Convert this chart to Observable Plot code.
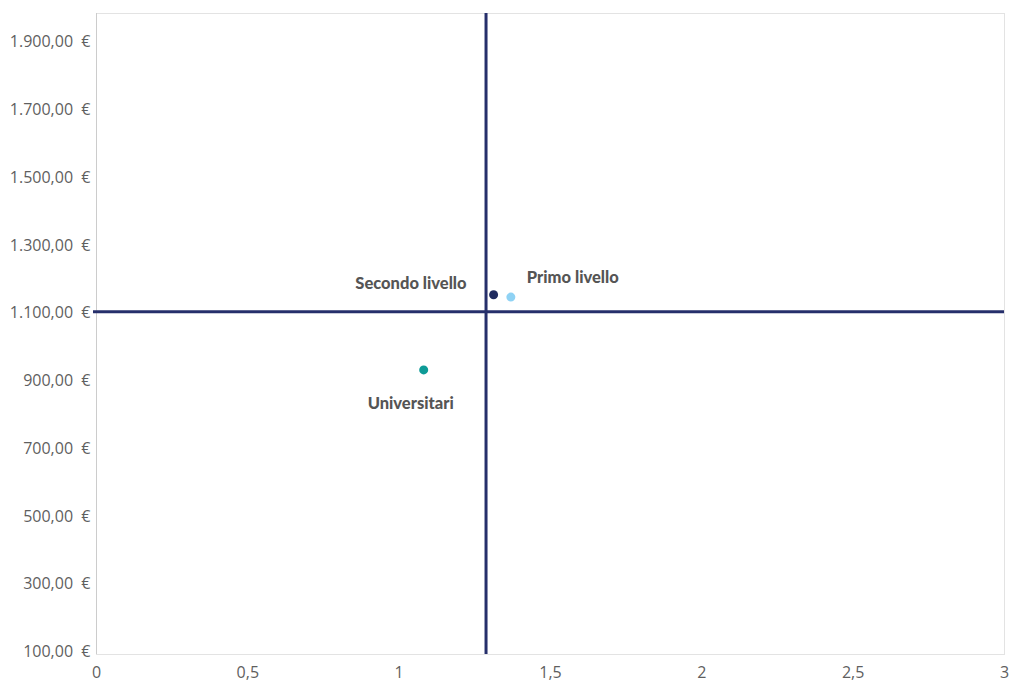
<!DOCTYPE html>
<html>
<head>
<meta charset="utf-8">
<script src="https://cdn.jsdelivr.net/npm/d3@7"></script>
<script src="https://cdn.jsdelivr.net/npm/@observablehq/plot@0.6"></script>
<style>
  html, body { margin: 0; padding: 0; background: #fff; }
  #chart svg { display: block; }
</style>
</head>
<body>
<div id="chart"></div>
<script>
const categories = ["Secondo livello", "Primo livello", "Universitari"];
const xValues = [1.312, 1.369, 1.081];
const yValues = [1162, 1155, 940];
const colors = ["#1f2a5e", "#8fd2f4", "#0e9b97"];
const refX = 1.287;
const refY = 1112;
const xTicks = [0, 0.5, 1, 1.5, 2, 2.5, 3];
const yTicks = [100, 300, 500, 700, 900, 1100, 1300, 1500, 1700, 1900];

const data = categories.map((c, i) => ({name: c, x: xValues[i], y: yValues[i], color: colors[i]}));
const loc = d3.formatLocale({decimal: ",", thousands: ".", grouping: [3], currency: ["", " €"]});
const fy = loc.format(",.2f");
const fx = loc.format(",");

const labelOffsets = {
  "Secondo livello": {dx: -27, dy: -11, anchor: "end"},
  "Primo livello": {dx: 16, dy: -19, anchor: "start"},
  "Universitari": {dx: -13, dy: 34, anchor: "middle"}
};

const chart = Plot.plot({
  width: 1012,
  height: 684,
  marginLeft: 96,
  marginRight: 8,
  marginTop: 13,
  marginBottom: 30,
  style: {fontFamily: "'Open Sans', sans-serif", fontSize: "16px", color: "#5f5f5f", background: "#fff"},
  x: {domain: [0, 3], tickFormat: d => fx(d), label: null},
  y: {domain: [100, 1992], label: null},
  marks: [
    Plot.frame({stroke: "#e3e3e3", strokeWidth: 1}),
    Plot.ruleX([0], {stroke: "#cccccc", strokeWidth: 1}),
    Plot.axisX(xTicks, {tickSize: 0, tickPadding: 12, tickFormat: d => fx(d), fontSize: 16, fill: "#5f5f5f"}),
    Plot.axisY(yTicks, {tickSize: 0, tickPadding: 6, dy: -2.5, tickFormat: d => fy(d) + "\u00a0\u00a0€", fontSize: 16, fill: "#5f5f5f"}),
    Plot.ruleY([refY], {stroke: "#262f6b", strokeWidth: 3, x1: 0, x2: 3, insetLeft: -3}),
    Plot.ruleX([refX], {stroke: "#262f6b", strokeWidth: 3}),
    Plot.dot(data, {x: "x", y: "y", fill: "color", r: 4.5}),
    ...categories.map(c => Plot.text(data.filter(d => d.name === c), {
      x: "x", y: "y", text: "name",
      dx: labelOffsets[c].dx, dy: labelOffsets[c].dy, textAnchor: labelOffsets[c].anchor,
      fontFamily: "Lato, sans-serif", fontWeight: 900, fontSize: 16.5, fill: "#555555"
    }))
  ]
});
document.getElementById("chart").appendChild(chart);
</script>
</body>
</html>
